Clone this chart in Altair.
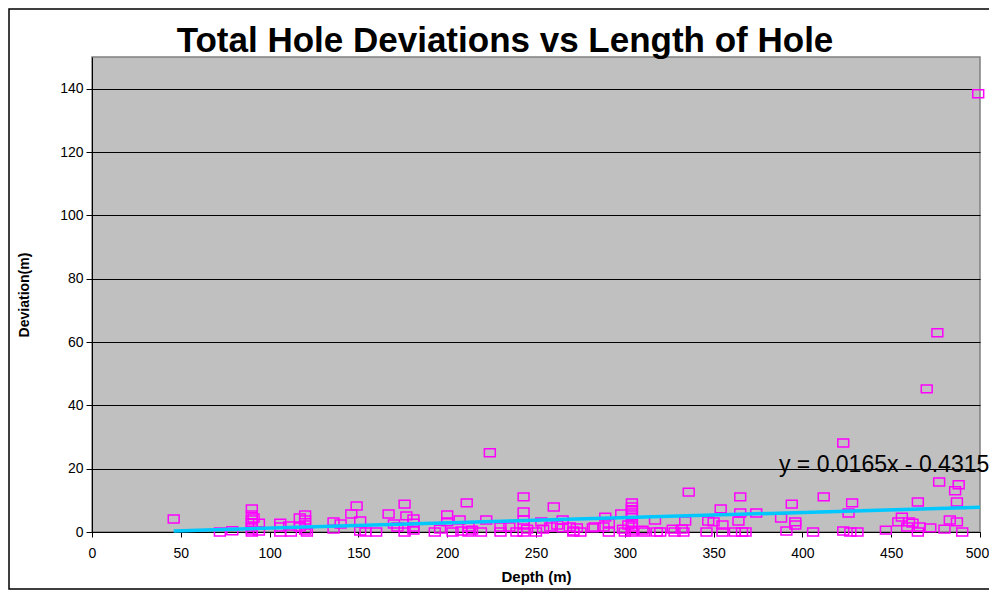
import altair as alt
import pandas as pd

depth = [46,72,79,90,90,90,90,90,90,90,
         91,94,94,106,106,106,111,112,117,117,
         120,120,120,120,121,136,136,140,146,149,
         151,151,154,160,167,170,172,176,177,176,
         181,181,181,181,193,196,200,200,203,207,
         208,211,212,212,214,219,222,224,230,230,
         235,239,243,243,243,243,243,245,250,253,
         254,258,260,262,265,265,269,271,271,273,
         275,282,283,288,289,291,291,298,299,300,
         302,304,304,304,304,304,304,304,304,304,
         310,311,317,318,320,327,328,332,333,334,
         336,346,347,350,354,355,355,362,364,365,
         365,366,368,374,388,391,394,396,396,406,
         412,423,423,426,427,428,431,447,454,456,
         459,460,462,465,465,466,470,472,476,477,
         480,483,486,487,487,488,490,499]

deviation = [4.1,0,0.4,7.3,5.4,3.8,2.8,1.6,0.6,0,
             4.4,2.8,0.3,2.8,1.6,0,1.9,0,4.4,1.6,
             5.4,3.8,2.2,0.6,0,3.2,0.9,2.5,5.7,8.2,
             3.5,0.3,0,0,5.7,2.5,1.6,8.8,5.1,0,
             4.1,2.8,1.6,0.6,0,0.9,5.4,3.2,0,3.8,
             0.3,9.2,1.6,0,0.6,0,3.8,25,1.6,0,
             1.6,0,11.1,6.3,3.8,2.2,0,0.9,0,3.2,
             0.9,1.6,7.9,2.2,3.8,1.3,1.6,0.3,0,1.3,
             0,1.3,1.6,1.6,4.7,2.8,0,5.7,0.9,0,
             2.2,9.2,7.9,7.0,6.0,4.7,2.8,1.6,0.6,0,
             0.6,0,3.8,0,0,0.9,0,0.9,0,3.5,
             12.6,0,3.5,3.2,7.3,2.2,0,0,3.5,11.1,
             6.0,0,0,6.0,4.4,0.3,8.8,3.2,2.2,0,
             11.1,28.1,0.3,6.0,0,9.2,0,0.6,3.2,4.7,
             1.6,3.2,2.8,9.5,0,1.6,45.2,1.3,62.9,15.8,
             0.9,3.8,13.0,3.2,9.5,14.9,0,138.4]

trend_depth = [46, 500]
trend_dev = [0.33, 7.82]

eq_label = ["y = 0.0165x - 0.4315"]
eq_depth = [446]
eq_dev = [21.3]

x_ticks = [0, 50, 100, 150, 200, 250, 300, 350, 400, 450, 500]
y_ticks = [0, 20, 40, 60, 80, 100, 120, 140]

FONT = "Liberation Sans"

pts = pd.DataFrame({"Depth": depth, "Deviation": deviation})
trend = pd.DataFrame({"Depth": trend_depth, "Deviation": trend_dev})
eq = pd.DataFrame({"Depth": eq_depth, "Deviation": eq_dev, "label": eq_label})

xscale = alt.Scale(domain=[0, 500], nice=False, zero=False)
yscale = alt.Scale(domain=[0, 150], nice=False)

xaxis = alt.Axis(values=x_ticks, grid=False, title="Depth (m)", labelFont=FONT,
                 labelFontSize=14, labelColor="black", tickColor="black", tickSize=5,
                 domainColor="black", titleFont=FONT, titleFontSize=15,
                 titleFontWeight="bold", titleColor="black", labelPadding=9,
                 titlePadding=9, labelFlush=False,
                 labelOffset={"condition": {"test": "datum.value == 500", "value": -3},
                              "value": 0})
yaxis = alt.Axis(values=y_ticks, grid=True, gridColor="black", gridWidth=1,
                 gridOpacity=1, title="Deviation(m)", labelFont=FONT, labelFontSize=14,
                 labelColor="black", tickColor="black", tickSize=6, domainColor="black",
                 titleFont=FONT, titleFontSize=14, titleFontWeight="bold",
                 titleColor="black", labelPadding=3, titlePadding=28, labelFlush=False)

box = "M-1.3,-0.95L1.3,-0.95L1.3,0.95L-1.3,0.95Z"

points = alt.Chart(pts).mark_point(shape=box, size=70, filled=False,
                                   color="#FF00FF", strokeWidth=1.5, opacity=1).encode(
    x=alt.X("Depth:Q", scale=xscale, axis=xaxis),
    y=alt.Y("Deviation:Q", scale=yscale, axis=yaxis),
)

line = alt.Chart(trend).mark_line(color="#00C8FF", strokeWidth=3.5).encode(
    x=alt.X("Depth:Q", scale=xscale),
    y=alt.Y("Deviation:Q", scale=yscale),
)

text = alt.Chart(eq).mark_text(font=FONT, fontSize=23, color="black",
                               align="center", baseline="middle").encode(
    x=alt.X("Depth:Q", scale=xscale),
    y=alt.Y("Deviation:Q", scale=yscale),
    text="label:N",
)

frame = alt.Chart(eq).mark_rect(fill="transparent", stroke="black", strokeWidth=1.5).encode(
    x=alt.value(-83), x2=alt.value(1000), y=alt.value(-48), y2=alt.value(532)
)

chart = alt.layer(frame, points, line, text).properties(
    width=888, height=475,
    title=alt.TitleParams("Total Hole Deviations vs Length of Hole", font=FONT,
                          fontSize=35, fontWeight="bold", color="black",
                          anchor="middle", dx=-31, offset=-51),
    autosize="none",
    padding={"left": 84, "top": 49, "right": 9, "bottom": 58},
).configure_view(fill="#C0C0C0", stroke="#808080", strokeWidth=1.5)

chart.save("out.html", embed_options={"renderer": "svg", "actions": False})
